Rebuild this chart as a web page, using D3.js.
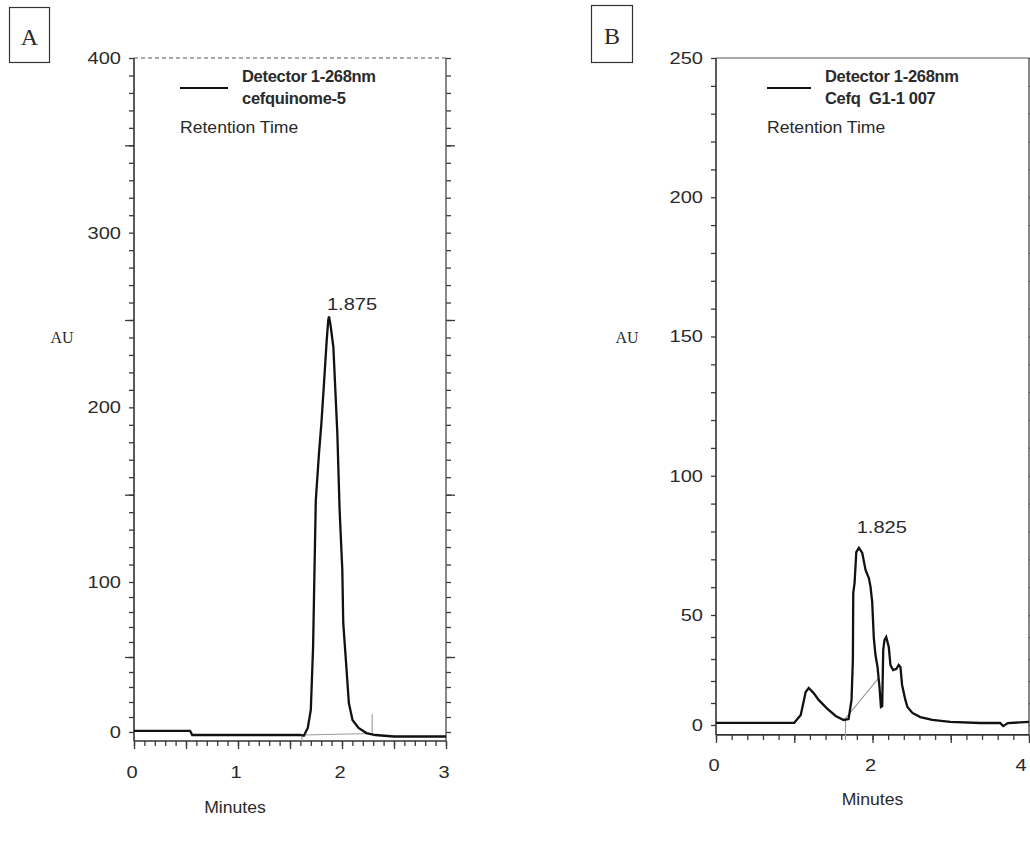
<!DOCTYPE html>
<html>
<head>
<meta charset="utf-8">
<script src="https://cdn.jsdelivr.net/npm/d3@7"></script>
<style>
  body { margin: 0; background: #fff; }
  svg text { font-family: "Liberation Sans", Arial, sans-serif; fill: #2a2a2a; }
</style>
</head>
<body>
<div id="c1"></div>
<script>
// Panel A - cefquinome standard (time in minutes, response in AU)
var timeA = [0, 0.54, 0.56, 1.6, 1.633, 1.671, 1.70, 1.722, 1.732, 1.748, 1.779, 1.802, 1.827, 1.853, 1.868, 1.875,
             1.89, 1.917, 1.955, 1.977, 2.003, 2.012, 2.044, 2.066, 2.101, 2.159, 2.235, 2.321, 2.5, 3.0];
var auA   = [0.7, 0.7, -2, -2, -2.5, 2.7, 14.7, 56.7, 94.7, 146.7, 173.9, 191, 213.9, 238.5, 250, 252,
             247, 234.5, 185.3, 141.2, 106.9, 72.7, 41.3, 19.3, 8, 2.7, -0.7, -2, -3, -3];

// Panel B - sample Cefq G1-1 007
var timeB = [0, 0.5, 1.0, 1.083, 1.146, 1.185, 1.248, 1.312, 1.414, 1.529, 1.631, 1.694, 1.732, 1.749, 1.754, 1.771,
             1.793, 1.826, 1.869, 1.911, 1.953, 1.975, 1.996, 2.017, 2.038, 2.064, 2.089, 2.108, 2.124, 2.137, 2.153,
             2.175, 2.208, 2.229, 2.264, 2.306, 2.335, 2.357, 2.378, 2.420, 2.446, 2.510, 2.611, 2.764, 2.994, 3.376,
             3.631, 3.67, 3.73, 4.0];
var auB   = [1, 1, 1, 4.5, 15, 16.8, 14.5, 11.4, 7.7, 4.1, 2.3, 2.7, 11.4, 29.5, 57.9, 61.5,
             72.6, 74.1, 72.3, 66.2, 63.3, 60.1, 54.7, 39.5, 31.8, 26.4, 17.3, 8.2, 8.6, 34.1, 38.6,
             40, 35.5, 27.3, 25, 25.5, 27.3, 26.4, 18.2, 11.4, 8.2, 5.5, 3.6, 2.3, 1.4, 0.9,
             0.9, -0.5, 0.9, 1.4];

// integration baselines [time, AU]
var baseA = [[1.62, -2], [2.29, -1]];
var markA = [[2.29, -1], [2.29, 12]];
var markA0 = [[1.615, -2], [1.615, -6]];
var baseB = [[1.64, 2.3], [2.08, 21.4]];
var markB = [[1.655, 2.3], [1.655, -7]];

// tick labels
var yTicksA = [0, 100, 200, 300, 400];
var xTicksA = [0, 1, 2, 3];
var yTicksB = [0, 50, 100, 150, 200, 250];
var xTicksB = [0, 2, 4];

var peakA = {t: 1.875, label: "1.875"};
var peakB = {t: 1.825, label: "1.825"};

var svg = d3.select("#c1").append("svg")
    .attr("width", 1030)
    .attr("height", 846);

function label(x, y, str, size, sx, anchor, extra) {
    var t = svg.append("text")
        .attr("transform", "translate(" + x + "," + y + ") scale(" + sx + ",1)")
        .attr("text-anchor", anchor || "middle")
        .attr("dominant-baseline", "central")
        .style("font-size", size + "px")
        .text(str);
    if (extra) extra(t);
    return t;
}

function drawPanel(p) {
    var x = p.x, y = p.y;
    var g = svg.append("g");
    var x0 = x.range()[0], x1 = x.range()[1];
    var yb = y(p.yMin), yt = y(p.yMax);

    // minor / medium ticks, left and right
    [[d3.axisLeft, x0], [d3.axisRight, x1]].forEach(function (a) {
        g.append("g").attr("transform", "translate(" + a[1] + ",0)")
            .call(a[0](y).tickValues(p.yMinor).tickSize(5).tickFormat(""));
        if (p.yMid.length)
            g.append("g").attr("transform", "translate(" + a[1] + ",0)")
                .call(a[0](y).tickValues(p.yMid).tickSize(9).tickFormat(""));
    });
    g.append("g").attr("transform", "translate(0," + yb + ")")
        .call(d3.axisBottom(x).tickValues(p.xMinor).tickSize(5).tickFormat(""));
    g.append("g").attr("transform", "translate(0," + yb + ")")
        .call(d3.axisBottom(x).tickValues(p.xMajor).tickSize(8).tickFormat(""));
    g.selectAll(".domain").remove();
    g.selectAll(".tick line").attr("stroke", "#3a3a3a").attr("stroke-width", 1.3);

    // frame
    g.append("line").attr("x1", x0).attr("x2", x0).attr("y1", yt).attr("y2", yb)
        .attr("stroke", "#333").attr("stroke-width", 1.6);
    g.append("line").attr("x1", x1).attr("x2", x1).attr("y1", yt).attr("y2", yb)
        .attr("stroke", "#555").attr("stroke-width", 1.4);
    g.append("line").attr("x1", x0).attr("x2", x1).attr("y1", yb).attr("y2", yb)
        .attr("stroke", "#333").attr("stroke-width", 1.6);
    g.append("line").attr("x1", x0).attr("x2", x1).attr("y1", yt).attr("y2", yt)
        .attr("stroke", "#555").attr("stroke-width", 1.2)
        .attr("stroke-dasharray", p.dashedTop ? "4,3" : null);

    // tick labels
    p.yTicks.forEach(function (v) {
        label(x0 - 13, y(v), v, 17, 1.18, "end");
    });
    p.xTicks.forEach(function (v) {
        var lx = Math.min(x(v) - 2, 1021);
        label(lx, p.xLabelY, v, 17, 1.18, "middle");
    });
    label((x0 + x1) / 2 - (p.minutesShift || 0), p.minutesY, "Minutes", 16, 1.1, "middle");

    // integration marks
    var gl = d3.line().x(function (d) { return x(d[0]); }).y(function (d) { return y(d[1]); });
    p.marks.forEach(function (m) {
        g.append("path").attr("d", gl(m)).attr("fill", "none")
            .attr("stroke", "#9a9a9a").attr("stroke-width", 1.1);
    });

    // trace
    var line = d3.line()
        .x(function (d, i) { return x(p.time[i]); })
        .y(function (d) { return y(d); });
    g.append("path").attr("d", line(p.au))
        .attr("fill", "none").attr("stroke", "#111")
        .attr("stroke-width", 2.3).attr("stroke-linejoin", "miter");

    // peak label
    label(x(p.peak.t) + 23, p.peakY, p.peak.label, 17, 1.18, "middle");

    // legend
    g.append("line").attr("x1", p.legX).attr("x2", p.legX + p.legLen)
        .attr("y1", 88).attr("y2", 88).attr("stroke", "#111").attr("stroke-width", 2);
    label(p.legX + p.legLen + 14, 76, "Detector 1-268nm", 16.5, 1, "start", function (t) { t.style("font-weight", "bold").attr("letter-spacing", -0.3); });
    label(p.legX + p.legLen + 14, 98, p.sample, 16.5, 1, "start", function (t) { t.style("font-weight", "bold").attr("letter-spacing", -0.3).style("white-space", "pre"); });
    label(p.legX, 128, "Retention Time", 16, 1.1, "start");

    // AU label
    svg.append("text").attr("x", p.auX).attr("y", 337)
        .attr("text-anchor", "middle").attr("dominant-baseline", "central")
        .style("font-family", "'Liberation Serif', 'Times New Roman', serif")
        .style("font-size", "16px").text("AU");

    // panel letter box
    svg.append("rect").attr("x", p.box[0]).attr("y", p.box[1])
        .attr("width", p.box[2]).attr("height", p.box[3])
        .attr("fill", "none").attr("stroke", "#333").attr("stroke-width", 1.2);
    svg.append("text").attr("x", p.box[0] + p.box[2] / 2).attr("y", p.box[1] + p.box[3] / 2 + 2)
        .attr("text-anchor", "middle").attr("dominant-baseline", "central")
        .style("font-family", "'Liberation Serif', 'Times New Roman', serif")
        .style("font-size", "24px").text(p.letter);
}

drawPanel({
    x: d3.scaleLinear().domain([0, 3]).range([134, 446]),
    y: d3.scaleLinear().domain([0, 100, 400]).range([732, 582, 58]),
    yMin: -6, yMax: 400,
    yMinor: d3.range(0, 401, 10),
    yMid: [50, 150, 250, 350],
    xMinor: d3.range(0, 3.01, 0.1),
    xMajor: [0, 0.5, 1, 1.5, 2, 2.5, 3],
    yTicks: yTicksA, xTicks: xTicksA,
    xLabelY: 772, minutesY: 808, minutesShift: 55,
    dashedTop: true,
    time: timeA, au: auA,
    marks: [baseA, markA, markA0],
    peak: peakA, peakY: 304,
    legX: 180, legLen: 48, sample: "cefquinome-5",
    auX: 62,
    box: [9.5, 7.5, 40, 55], letter: "A"
});

drawPanel({
    x: d3.scaleLinear().domain([0, 4]).range([716, 1029]),
    y: d3.scaleLinear().domain([0, 50, 250]).range([725, 615, 58]),
    yMin: -4.5, yMax: 250,
    yMinor: d3.range(0, 251, 10),
    yMid: [],
    xMinor: d3.range(0, 4.01, 0.2),
    xMajor: [0, 1, 2, 3, 4],
    yTicks: yTicksB, xTicks: xTicksB,
    xLabelY: 765, minutesY: 800, minutesShift: 0,
    dashedTop: false,
    time: timeB, au: auB,
    marks: [baseB, markB],
    peak: peakB, peakY: 527,
    legX: 767, legLen: 44, sample: "Cefq  G1-1 007",
    auX: 627,
    box: [591.5, 5.5, 41, 57], letter: "B"
});
</script>
</body>
</html>
